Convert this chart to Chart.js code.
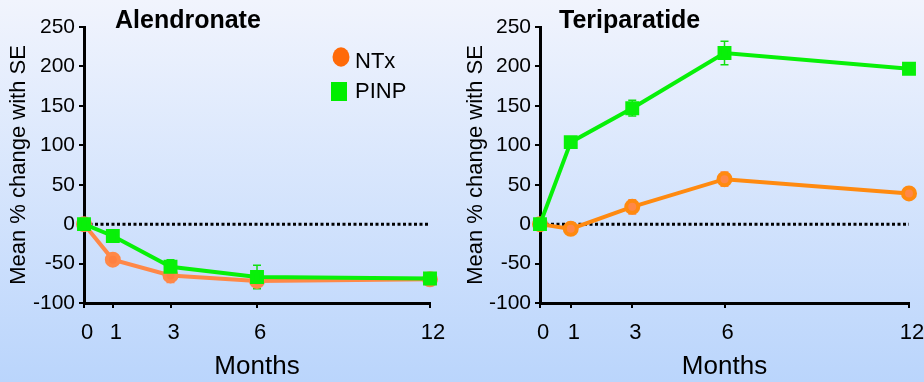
<!DOCTYPE html>
<html lang="en">
<head>
  <meta charset="UTF-8">
  <title>NTx and PINP: Alendronate vs Teriparatide</title>
  <script src="https://cdn.jsdelivr.net/npm/chart.js@4"></script>
  <style>
    html, body { margin: 0; padding: 0; }
    body {
      width: 924px;
      height: 382px;
      overflow: hidden;
      position: relative;
      background: linear-gradient(to bottom, #f1f4fd 0%, #bad5fc 100%);
    }
    .panel { position: absolute; top: 0; }
    #left { left: 0; }
    #right { left: 462px; }
  </style>
</head>
<body>
  <div class="panel" id="left"><canvas id="chart-aln" width="462" height="382"></canvas></div>
  <div class="panel" id="right"><canvas id="chart-ter" width="480" height="382"></canvas></div>

  <script>
    const FONT = "'Liberation Sans', Arial, sans-serif";

    // months after start of treatment
    const months = [0, 1, 3, 6, 12];

    // Alendronate: mean % change and SE
    const alnNtx = [0, -45, -65, -72, -70];
    const alnNtxSe = [0, 6, 9, 7, 3];
    const alnPinp = [0, -15, -54, -67, -69];
    const alnPinpSe = [0, 6, 9, 15, 3];

    // Teriparatide: mean % change and SE
    const terNtx = [0, -6, 22, 57, 39];
    const terNtxSe = [0, 5, 9, 9, 0];
    const terPinp = [0, 104, 147, 217, 197];
    const terPinpSe = [0, 6, 10, 15, 0];

    const yMin = -100, yMax = 250, yStep = 50;

    const pts = vals => months.map((m, i) => ({ x: m, y: vals[i] }));

    // vertical SE whiskers with caps, drawn under the lines
    const errorBars = {
      id: 'errorBars',
      beforeDatasetsDraw(chart) {
        const { ctx, scales: { x, y } } = chart;
        chart.data.datasets.forEach(ds => {
          if (!ds.se) return;
          ctx.save();
          ctx.strokeStyle = ds.errorColor;
          ctx.lineWidth = 1.5;
          ds.data.forEach((p, j) => {
            const se = ds.se[j];
            if (!se) return;
            const px = x.getPixelForValue(p.x);
            const top = y.getPixelForValue(p.y + se);
            const bot = y.getPixelForValue(p.y - se);
            ctx.beginPath();
            ctx.moveTo(px, top); ctx.lineTo(px, bot);
            ctx.moveTo(px - 4, top); ctx.lineTo(px + 4, top);
            ctx.moveTo(px - 4, bot); ctx.lineTo(px + 4, bot);
            ctx.stroke();
          });
          ctx.restore();
        });
      }
    };

    // bold heading and optional key
    const panelText = {
      id: 'panelText',
      afterDraw(chart, args, opts) {
        const ctx = chart.ctx;
        ctx.save();
        ctx.fillStyle = '#000';
        ctx.textBaseline = 'alphabetic';
        ctx.font = 'bold 25px ' + FONT;
        ctx.fillText(opts.heading, opts.headingX, 28);

        if (opts.key) {
          const [pinp, ntx] = chart.data.datasets;
          ctx.font = '22px ' + FONT;
          ctx.fillStyle = '#ff6a08';
          ctx.beginPath();
          ctx.ellipse(341, 57, 8.5, 9.7, 0, 0, Math.PI * 2);
          ctx.fill();
          ctx.fillStyle = '#000';
          ctx.fillText(ntx.label, 355, 68);
          ctx.fillStyle = '#00ee00';
          ctx.fillRect(331, 82, 16, 19);
          ctx.fillStyle = '#000';
          ctx.fillText(pinp.label, 355, 98);
        }
        ctx.restore();
      }
    };

    function makePanel(id, p) {
      const datasets = [
        {
          label: 'PINP',
          data: pts(p.pinp),
          se: p.pinpSe,
          borderColor: '#08f008',
          backgroundColor: '#08f008',
          errorColor: '#10e010',
          pointStyle: 'rect',
          pointRadius: 7,
          borderWidth: 4,
          order: 0,
          clip: false
        },
        {
          label: 'NTx',
          data: pts(p.ntx),
          se: p.ntxSe,
          borderColor: p.ntxLine,
          backgroundColor: p.ntxDot,
          errorColor: '#ff8c50',
          pointStyle: 'circle',
          pointRadius: 6,
          borderWidth: 4,
          order: 1,
          clip: false
        },
        {
          label: 'zero',
          data: [{ x: months[0], y: 0 }, { x: months[months.length - 1], y: 0 }],
          borderColor: '#000',
          borderWidth: 3,
          borderDash: [3, 2.5],
          pointRadius: 0,
          order: 2,
          clip: false
        }
      ];

      return new Chart(document.getElementById(id), {
        type: 'line',
        data: { datasets },
        plugins: [errorBars, panelText],
        options: {
          responsive: false,
          animation: false,
          events: [],
          layout: { padding: { left: 0, right: p.padRight, top: 27, bottom: 0 } },
          plugins: {
            legend: { display: false },
            tooltip: { enabled: false },
            panelText: { heading: p.heading, headingX: p.headingX, key: p.key }
          },
          scales: {
            x: {
              type: 'linear',
              min: months[0],
              max: months[months.length - 1],
              afterBuildTicks: s => { s.ticks = months.map(v => ({ value: v })); },
              afterFit: s => { s.height = 79; },
              grid: { drawOnChartArea: false, tickLength: 5, color: '#000', lineWidth: 2 },
              border: { color: '#000', width: 3 },
              ticks: {
                color: '#000',
                font: { family: FONT, size: 22 },
                padding: 12,
                labelOffset: 3,
                maxRotation: 0,
                autoSkip: false
              },
              title: {
                display: true,
                text: 'Months',
                color: '#000',
                font: { family: FONT, size: 26 },
                padding: { top: 0, bottom: 0 }
              }
            },
            y: {
              min: yMin,
              max: yMax,
              afterFit: s => { s.width = p.axisX; },
              grid: { drawOnChartArea: false, tickLength: 5, color: '#000', lineWidth: 2 },
              border: { color: '#000', width: 3 },
              ticks: {
                stepSize: yStep,
                color: '#000',
                font: { family: FONT, size: 21 },
                padding: 4
              },
              title: {
                display: true,
                text: 'Mean % change with SE',
                color: '#000',
                font: { family: FONT, size: 22 },
                padding: { top: p.titlePad, bottom: 0 }
              }
            }
          }
        }
      });
    }

    makePanel('chart-aln', {
      heading: 'Alendronate', headingX: 115, key: true,
      ntx: alnNtx, ntxSe: alnNtxSe, pinp: alnPinp, pinpSe: alnPinpSe,
      ntxLine: '#ff8848', ntxDot: '#ff8040',
      axisX: 84, padRight: 32, titlePad: 6
    });

    makePanel('chart-ter', {
      heading: 'Teriparatide', headingX: 97, key: false,
      ntx: terNtx, ntxSe: terNtxSe, pinp: terPinp, pinpSe: terPinpSe,
      ntxLine: '#ff8a10', ntxDot: '#ff8848',
      axisX: 78, padRight: 33, titlePad: 1
    });
  </script>
</body>
</html>
